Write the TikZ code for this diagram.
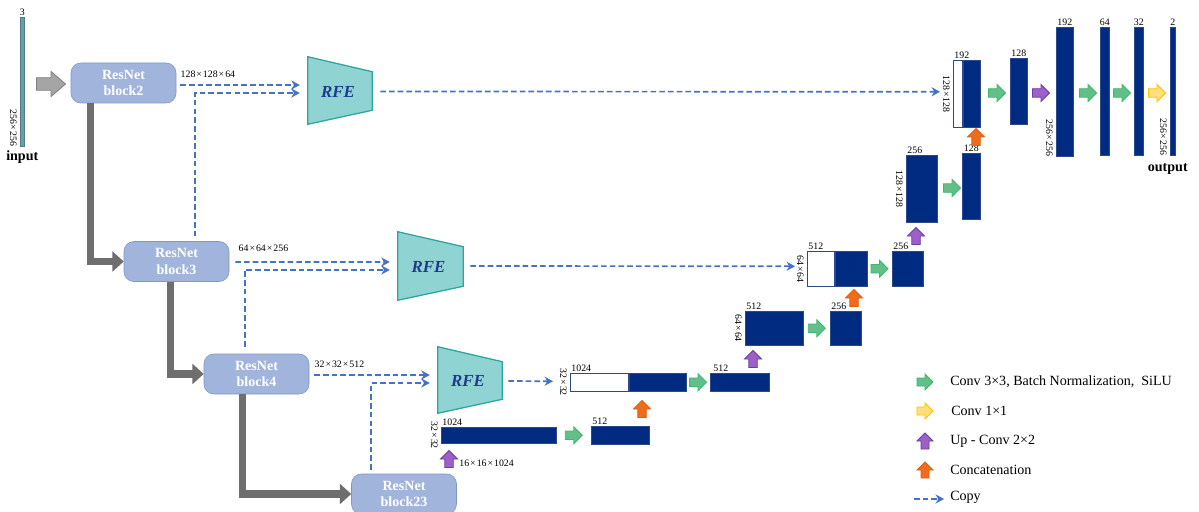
\documentclass[tikz,border=0pt]{standalone}
\usepackage{fontspec}
\setmainfont{Liberation Serif}
\usetikzlibrary{arrows.meta,positioning,calc}
\definecolor{Fmap}{HTML}{002B80}
\definecolor{FmapEdge}{HTML}{2B4A8C}
\definecolor{InBar}{HTML}{6A9FA8}
\definecolor{InEdge}{HTML}{4E7F89}
\definecolor{Block}{HTML}{A0B4DC}
\definecolor{BlockEdge}{HTML}{7F97CB}
\definecolor{Rfe}{HTML}{8FD3D3}
\definecolor{RfeEdge}{HTML}{2EA59A}
\definecolor{RfeText}{HTML}{1F3A8A}
\definecolor{Copy}{HTML}{4472C4}
\definecolor{Trunk}{HTML}{6E6E6E}
\definecolor{GreyF}{HTML}{A5A5A5}
\definecolor{GreyD}{HTML}{7F7F7F}
\definecolor{GreenF}{HTML}{62BF8A}
\definecolor{GreenD}{HTML}{3CB96E}
\definecolor{YellowF}{HTML}{FFE07A}
\definecolor{YellowD}{HTML}{FFC000}
\definecolor{PurpleF}{HTML}{9E5FCB}
\definecolor{PurpleD}{HTML}{6B3FA0}
\definecolor{OrangeF}{HTML}{EE6C1E}
\definecolor{OrangeD}{HTML}{E06010}
\newcommand{\px}{0.025cm}
\newcommand{\by}{\hspace{0.1em}×\hspace{0.1em}}

\begin{document}
\begin{tikzpicture}[x=\px,y=-\px,
fmap/.style={draw=FmapEdge,fill=Fmap,line width=0.4pt,inner sep=0pt,anchor=north west},
fmapw/.style={fmap,fill=white},
inbar/.style={fmap,draw=InEdge,fill=InBar},
resblock/.style={rounded corners=7pt,draw=BlockEdge,fill=Block,text=white,font=\bfseries,align=center,minimum width=105*\px,minimum height=40*\px,inner sep=0pt},
rfebox/.style={inner sep=0pt},
rfebody/.style={draw=RfeEdge,fill=Rfe,line width=0.9pt,line join=miter},
rfelabel/.style={text=RfeText,font=\fontsize{12}{14}\selectfont\bfseries\itshape},
copyline/.style={draw=Copy,line width=1.2pt,dash pattern=on 4pt off 2.2pt,-{Stealth[length=6pt,width=6.5pt]}},
trunk/.style={draw=Trunk,line width=5pt,line join=miter,-{Triangle[length=8pt,width=14pt]}},
chan/.style={font=\fontsize{7}{8}\selectfont,inner sep=0.8pt},
dimlab/.style={font=\fontsize{7}{8}\selectfont,inner sep=0pt,rotate=-90},
legtext/.style={anchor=west,font=\fontsize{10}{12}\selectfont,inner sep=0pt},
fatarrow/.pic={\path[pic actions] (-0.5,-0.25) -- (0,-0.25) -- (0,-0.5) -- (0.5,0) -- (0,0.5) -- (0,0.25) -- (-0.5,0.25) -- cycle;},
greenarr/.style={fill=GreenF,draw=GreenD,line width=0.6pt},
yellowarr/.style={fill=YellowF,draw=YellowD,line width=0.6pt},
purplearr/.style={fill=PurpleF,draw=PurpleD,line width=0.6pt},
orangearr/.style={fill=OrangeF,draw=OrangeD,line width=0.6pt},
greyarr/.style={fill=GreyF,draw=GreyD,line width=0.6pt}]
\useasboundingbox (0,0) rectangle (1199,512);
\fill[white] (0,0) rectangle (1199,512);
% encoder
\node[inbar,minimum width=4*\px,minimum height=129*\px] (inbar) at (20,17) {};
\node[chan,anchor=south] at (inbar.north) {3};
\node[dimlab,anchor=north east] at ($(inbar.south west)+(-3,0)$) {256\by256};
\node[font=\bfseries,anchor=north,inner sep=0pt] (inlab) at ($(inbar.south)+(0,4)$) {input};
\pic[greyarr,xscale=29,yscale=25] at (51,84) {fatarrow};
\node[resblock] (block2) at (123.5,83) {ResNet\\block2};
\node[resblock] (block3) at (176.5,261.5) {ResNet\\block3};
\node[resblock] (block4) at (256.5,374) {ResNet\\block4};
\node[resblock] (block23) at (404,494) {ResNet\\block23};
\draw[trunk] ($(block2.south west)+(20,0)$) |- (block3.west);
\draw[trunk] ($(block3.south west)+(47,0)$) |- (block4.west);
\draw[trunk] ($(block4.south west)+(39,0)$) |- (block23.west);
\node[chan,anchor=south west] at ($(block2.north east)+(3,16)$) {128\by128\by64};
\node[chan,anchor=south west] at ($(block3.north east)+(8,12)$) {64\by64\by256};
\node[chan,anchor=south west] at ($(block4.north east)+(4,15)$) {32\by32\by512};
% RFE modules
\node[rfebox,minimum width=64*\px,minimum height=67*\px] (rfe1) at (340,90.5) {};
\node[rfebox,minimum width=65*\px,minimum height=68*\px] (rfe2) at (430.5,266) {};
\node[rfebox,minimum width=64*\px,minimum height=66*\px] (rfe3) at (470,380) {};
\foreach \r in {rfe1,rfe2,rfe3}{
  \path[rfebody] (\r.north west) -- ($(\r.north east)+(0,15)$) -- ($(\r.south east)+(0,-14)$) -- (\r.south west) -- cycle;
  \node[rfelabel] (\r-txt) at ($(\r)+(-2,1)$) {RFE};
}
% decoder
\node[fmap,minimum width=115*\px,minimum height=16*\px] (b1024a) at (441,427) {};
\node[fmap,minimum width=58*\px,minimum height=18*\px] (b512a) at (591,426) {};
\node[fmapw,minimum width=58*\px,minimum height=18*\px] (c1024w) at (570,373) {};
\node[fmap,anchor=west,minimum width=57*\px,minimum height=18*\px] (c1024) at (c1024w.east) {};
\node[fmap,minimum width=59*\px,minimum height=18*\px] (b512b) at (710,373) {};
\node[fmap,minimum width=58*\px,minimum height=34*\px] (b512c) at (745,311) {};
\node[fmap,minimum width=31*\px,minimum height=34*\px] (b256a) at (830,311) {};
\node[fmapw,minimum width=27*\px,minimum height=35*\px] (c512w) at (807,251) {};
\node[fmap,anchor=west,minimum width=32*\px,minimum height=35*\px] (c512) at (c512w.east) {};
\node[fmap,minimum width=31*\px,minimum height=35*\px] (b256b) at (892,251) {};
\node[fmap,minimum width=31*\px,minimum height=67*\px] (b256c) at (906,155) {};
\node[fmap,minimum width=18*\px,minimum height=66*\px] (b128a) at (962,153) {};
\node[fmapw,minimum width=9*\px,minimum height=67*\px] (c192w) at (953,60) {};
\node[fmap,anchor=west,minimum width=17*\px,minimum height=67*\px] (c192) at (c192w.east) {};
\node[fmap,minimum width=17*\px,minimum height=66*\px] (b128b) at (1010,58) {};
\node[fmap,minimum width=17*\px,minimum height=129*\px] (b192) at (1056,27) {};
\node[fmap,minimum width=9*\px,minimum height=128*\px] (b64) at (1100,27) {};
\node[fmap,minimum width=9*\px,minimum height=128*\px] (b32) at (1134,27) {};
\node[fmap,minimum width=5*\px,minimum height=128*\px] (b2) at (1170,27) {};
% channel labels
\node[chan,anchor=south west] at (b1024a.north west) {1024};
\node[chan,anchor=south west] at (b512a.north west) {512};
\node[chan,anchor=south west] at (c1024w.north west) {1024};
\node[chan,anchor=south west] at ($(b512b.north west)+(2,0)$) {512};
\node[chan,anchor=south west] at (b512c.north west) {512};
\node[chan,anchor=south west] at (b256a.north west) {256};
\node[chan,anchor=south west] at (c512w.north west) {512};
\node[chan,anchor=south west] at (b256b.north west) {256};
\node[chan,anchor=south west] at (b256c.north west) {256};
\node[chan,anchor=south] at (b128a.north) {128};
\node[chan,anchor=south west] at (c192w.north west) {192};
\node[chan,anchor=south] at (b128b.north) {128};
\node[chan,anchor=south] at (b192.north) {192};
\node[chan,anchor=south] at (b64.north) {64};
\node[chan,anchor=south] at (b32.north) {32};
\node[chan,anchor=south] at (b2.north) {2};
% size labels
\node[dimlab,anchor=north] at ($(b1024a.west)+(-3,0)$) {32\by32};
\node[dimlab,anchor=north] at ($(c1024w.west)+(-3,0)$) {32\by32};
\node[dimlab,anchor=north] at ($(b512c.west)+(-3,0)$) {64\by64};
\node[dimlab,anchor=north] at ($(c512w.west)+(-3,0)$) {64\by64};
\node[dimlab,anchor=north west] at ($(b256c.north west)+(-3,15)$) {128\by128};
\node[dimlab,anchor=north] at ($(c192w.west)+(-3,0)$) {128\by128};
\node[dimlab,anchor=north east] at ($(b192.south west)+(-3,0)$) {256\by256};
\node[dimlab,anchor=north east] at ($(b2.south west)+(-3,0)$) {256\by256};
\node[font=\bfseries,anchor=north,inner sep=0pt] (outlab) at ($(b2.south)+(-5,8)$) {output};
\node[chan,anchor=west] at (458,463) {16\by16\by1024};
% operations
\pic[purplearr,scale=17,rotate=90] at (449,459) {fatarrow};
\pic[greenarr,scale=17] at ($(b1024a.east)!0.5!(b512a.west)$) {fatarrow};
\pic[orangearr,scale=17,rotate=90] at (642,409) {fatarrow};
\pic[greenarr,scale=17] at ($(c1024.east)!0.5!(b512b.west)$) {fatarrow};
\pic[purplearr,scale=17,rotate=90] at (753,359) {fatarrow};
\pic[greenarr,scale=17] at ($(b512c.east)!0.5!(b256a.west)$) {fatarrow};
\pic[orangearr,scale=17,rotate=90] at (854,298) {fatarrow};
\pic[greenarr,scale=17] at ($(c512.east)!0.5!(b256b.west)$) {fatarrow};
\pic[purplearr,scale=17,rotate=90] at (916,236) {fatarrow};
\pic[greenarr,scale=17] at (952,188) {fatarrow};
\pic[orangearr,scale=17,rotate=90] at (976,137) {fatarrow};
\pic[greenarr,scale=17] at (997,93) {fatarrow};
\pic[purplearr,scale=17] at (1041,93) {fatarrow};
\pic[greenarr,scale=17] at (1088,93) {fatarrow};
\pic[greenarr,scale=17] at (1122,93) {fatarrow};
\pic[yellowarr,scale=17] at (1157,93) {fatarrow};
% copy connections
\draw[copyline] ($(block2.east)+(4,2)$) -- ($(rfe1.west)+(-8,-5.5)$);
\draw[copyline] ($(block3.north west)+(71,-5)$) |- ($(rfe1.west)+(-8,2.5)$);
\draw[copyline] ($(rfe1.east)+(8,1)$) -- ($(c192w.west)+(-13,-2)$);
\draw[copyline] ($(block3.east)+(6,0.5)$) -- ($(rfe2.west)+(-8,-4)$);
\draw[copyline] ($(block4.north west)+(41,-7)$) |- ($(rfe2.west)+(-8,4)$);
\draw[copyline] ($(rfe2.east)+(7,0)$) -- ($(c512w.west)+(-12,-2.5)$);
\draw[copyline] ($(block4.east)+(5,1)$) -- ($(rfe3.west)+(-8,-5)$);
\draw[copyline] ($(block23.north west)+(20,-4)$) |- ($(rfe3.west)+(-8,3)$);
\draw[copyline] ($(rfe3.east)+(6,1)$) -- ($(c1024w.west)+(-17,-1)$);
% legend
\pic[greenarr,scale=16] at (925,382) {fatarrow};
\pic[yellowarr,scale=16] at (925,411) {fatarrow};
\pic[purplearr,scale=16,rotate=90] at (925,441) {fatarrow};
\pic[orangearr,scale=16,rotate=90] at (925,470) {fatarrow};
\coordinate (lgc1) at (914,499);
\coordinate (lgc2) at (944,499);
\draw[copyline] (lgc1) -- (lgc2);
\node[legtext] (lg1) at (950,382) {Conv 3×3, Batch Normalization,~ SiLU};
\node[legtext] (lg2) at (951,411) {Conv 1×1};
\node[legtext] (lg3) at (950,441) {Up - Conv 2×2};
\node[legtext] (lg4) at (950,470) {Concatenation};
\node[legtext] (lg5) at (950,497) {Copy};
\end{tikzpicture}
\end{document}
